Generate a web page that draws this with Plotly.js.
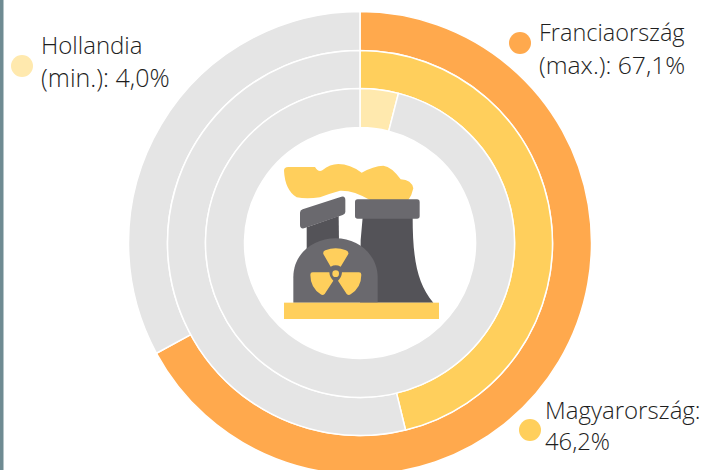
<!DOCTYPE html>
<html><head><meta charset="utf-8">
<script src="https://cdn.plot.ly/plotly-3.0.1.min.js"></script>
<style>html,body{margin:0;padding:0;background:#fff;overflow:hidden;width:702px;height:470px}#c{width:702px;height:500px}</style>
</head><body><div id="c"></div>
<script>
var countries=['Franciaország','Magyarország','Hollandia'];
var shares=[67.1,46.2,4.0];
var ringColors=['#FFA94D','#FFCF5C','#FFE9AE'];
var restColor='#E5E5E5';
var labelLines=[['Franciaország','(max.): 67,1%'],['Magyarország:','46,2%'],['Hollandia','(min.): 4,0%']];
var W=702,H=500,cx=360,cy=243;
var outer=[231.5,192.5,154.5],inner=[192.5,154.5,115.5];
var labelPos=[[540,15,43],[546,392,430],[42,27,66]];
var labelSizes=[[23.5,24.7],[24,23.8],[24,25]];
var dotX=[520,530,22];
var font='"Open Sans"';
function px(x){return x/W} function py(y){return 1-y/H}
var traces=countries.map(function(c,i){return {
  type:'pie',values:[shares[i],100-shares[i]],labels:[c,'rest'],sort:false,direction:'clockwise',rotation:0,
  hole:inner[i]/outer[i],textinfo:'none',hoverinfo:'label+value',showlegend:false,
  marker:{colors:[ringColors[i],restColor],line:{color:'#fff',width:1.5}},
  domain:{x:[px(cx-outer[i]),px(cx+outer[i])],y:[py(cy+outer[i]),py(cy-outer[i])]}
}});
var annotations=[],shapes=[{type:'rect',xref:'paper',yref:'paper',x0:0,x1:px(3.5),y0:0,y1:1,fillcolor:'#6F8B92',line:{width:0}}];
countries.forEach(function(c,i){
  labelLines[i].forEach(function(t,j){
    annotations.push({xref:'paper',yref:'paper',x:px(labelPos[i][0]),y:py(labelPos[i][1]+j*32),xanchor:'left',yanchor:'top',xshift:-2,align:'left',showarrow:false,text:t,font:{family:font,size:labelSizes[i][j],color:'#1E1E1E',weight:300},borderpad:0});
  });
  var r=11,d=dotX[i],e=labelPos[i][2];
  shapes.push({type:'circle',xref:'paper',yref:'paper',x0:px(d-r),x1:px(d+r),y0:py(e+r),y1:py(e-r),fillcolor:ringColors[i],line:{width:0}});
});
var svg='<svg xmlns="http://www.w3.org/2000/svg" width="660" height="570" viewBox="0 0 660 570">'+
'<path fill="#FFCF5C" d="M132,92 Q132,81 145,81 L225,81 Q235,98 247,91 Q270,72 295,72 Q330,72 365,98 Q400,78 430,77 Q455,80 482,118 Q515,120 520,145 Q516,165 505,180 L390,180 Q340,150 300,152 Q270,160 240,172 Q200,178 170,172 Q135,150 132,92 Z"/>'+
'<path fill="#545358" d="M200,262 L296,228 L297,305 L200,335 Z"/>'+
'<path fill="#6A696E" d="M180,218 Q180,210 188,208 L304,170 Q316,167 316,180 L316,216 Q316,222 308,225 L192,265 Q180,267 180,255 Z"/>'+
'<path fill="#545358" d="M368,232 L518,232 C518,350 530,430 580,488 L360,488 L362,300 Z"/>'+
'<rect fill="#6A696E" x="345" y="178" width="194" height="58" rx="8"/>'+
'<path fill="#6A696E" d="M160,488 L160,412 C160,340 220,295 287,295 C355,295 413,345 413,412 L413,488 Z"/>'+
'<rect fill="#FFCF5C" x="132" y="488" width="465" height="49"/>'+
'<path fill="#FFCF5C" d="M250,342 Q248,334 256,331 Q287,318 318,331 Q327,335 325,342 L302,380 Q287,372 272,380 Z"/>'+
'<path fill="#FFCF5C" d="M211,404 Q211,397 218,397 L268,397 Q269,412 280,422 L254,462 Q248,468 242,463 Q211,442 211,404 Z"/>'+
'<path fill="#FFCF5C" d="M364,404 Q364,397 357,397 L306,397 Q305,412 294,422 L320,462 Q326,468 332,463 Q364,442 364,404 Z"/>'+
'<circle cx="287" cy="401" r="10" fill="#FFCF5C"/></svg>';
var layout={width:W,height:H,margin:{l:0,r:0,t:0,b:0},paper_bgcolor:'#fff',showlegend:false,annotations:annotations,shapes:shapes,
 images:[{source:'data:image/svg+xml;base64,'+btoa(svg),xref:'paper',yref:'paper',x:px(240),y:py(140),sizex:220/W,sizey:190/H,xanchor:'left',yanchor:'top',sizing:'stretch',layer:'above'}]};
Plotly.newPlot('c',traces,layout,{displayModeBar:false,staticPlot:true});
</script></body></html>
